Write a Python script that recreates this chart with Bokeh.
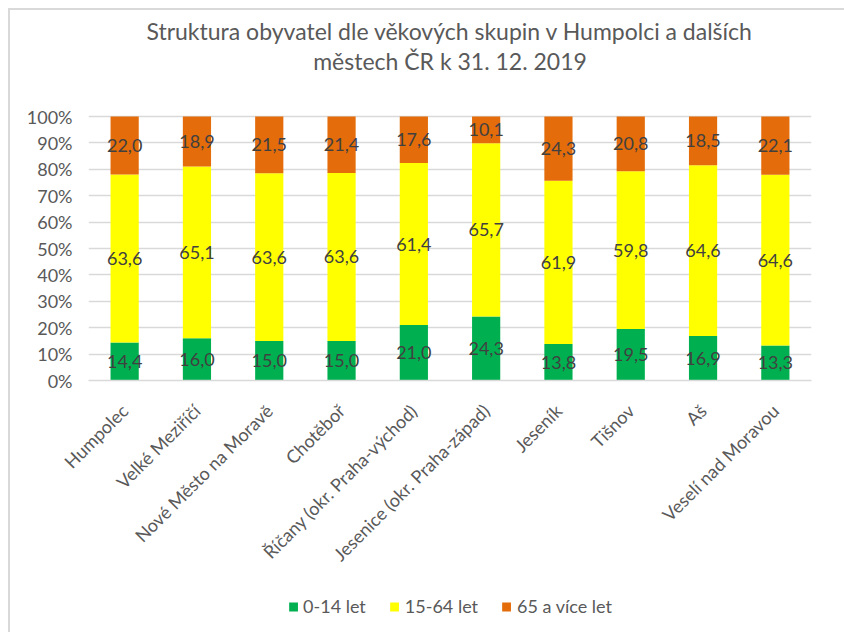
from math import pi
from bokeh.plotting import figure
from bokeh.layouts import column
from bokeh.models import (ColumnDataSource, FactorRange, Range1d, FixedTicker,
                          NumeralTickFormatter, Legend, LegendItem, Title)
from bokeh.core.properties import value
from bokeh.embed import file_html
from bokeh.resources import INLINE

cities = ["Humpolec", "Velké Meziříčí", "Nové Město na Moravě", "Chotěboř",
          "Říčany (okr. Praha-východ)", "Jesenice (okr. Praha-západ)",
          "Jeseník", "Tišnov", "Aš", "Veselí nad Moravou"]
age_0_14 = [14.4, 16.0, 15.0, 15.0, 21.0, 24.3, 13.8, 19.5, 16.9, 13.3]
age_15_64 = [63.6, 65.1, 63.6, 63.6, 61.4, 65.7, 61.9, 59.8, 64.6, 64.6]
age_65 = [22.0, 18.9, 21.5, 21.4, 17.6, 10.1, 24.3, 20.8, 18.5, 22.1]
series_names = ["0-14 let", "15-64 let", "65 a více let"]
colors = ["#00B050", "#FFFF00", "#E46C0A"]
title_lines = ["Struktura obyvatel dle věkových skupin v Humpolci a dalších",
               "městech ČR k 31. 12. 2019"]

FONT = "Lato"
TXT = "#595959"

# layout (pixels): frame top sits just under the title; 100 % line lower down
FRAME_TOP, HUNDRED_PX, ZERO_PX = 64, 106, 370
Y_END = (ZERO_PX - FRAME_TOP) / (ZERO_PX - HUNDRED_PX)

tot = [a + b + c for a, b, c in zip(age_0_14, age_15_64, age_65)]
s1 = [a / t for a, t in zip(age_0_14, tot)]
s2 = [b / t for b, t in zip(age_15_64, tot)]
s3 = [c / t for c, t in zip(age_65, tot)]
src = ColumnDataSource(dict(city=cities, s1=s1, s2=s2, s3=s3))

p = figure(x_range=FactorRange(factors=cities, range_padding=0),
           y_range=Range1d(0, Y_END), width=834, height=570,
           output_backend="svg", toolbar_location=None, title=None,
           min_border_left=78, min_border_right=16, min_border_top=FRAME_TOP,
           min_border_bottom=570 - ZERO_PX)
p.outline_line_color = None

rs = p.vbar_stack(["s1", "s2", "s3"], x="city", width=0.39, color=colors,
                  line_color=None, source=src)

# data labels at segment centres
lx, ly, lt = [], [], []
for i, c in enumerate(cities):
    base = 0.0
    for frac, raw in ((s1[i], age_0_14[i]), (s2[i], age_15_64[i]), (s3[i], age_65[i])):
        lx.append(c)
        ly.append(base + frac / 2)
        lt.append(f"{raw:.1f}".replace(".", ","))
        base += frac
lsrc = ColumnDataSource(dict(x=lx, y=ly, t=lt))
p.text(x="x", y="y", text="t", source=lsrc, text_align="center",
       text_baseline="middle", text_font=value(FONT), text_font_size="18px",
       text_color="#404040")

# axes
p.yaxis.ticker = FixedTicker(ticks=[i / 10 for i in range(11)])
p.yaxis.formatter = NumeralTickFormatter(format="0%")
p.yaxis.axis_line_color = None
p.yaxis.major_tick_line_color = None
p.yaxis.minor_tick_line_color = None
p.yaxis.major_label_standoff = 10
p.yaxis.major_label_text_font = FONT
p.yaxis.major_label_text_font_size = "18px"
p.yaxis.major_label_text_color = TXT

p.xaxis.axis_line_color = "#d9d9d9"
p.xaxis.axis_line_width = 1.5
p.xaxis.major_tick_line_color = None
p.xaxis.minor_tick_line_color = None
p.xaxis.major_label_orientation = pi / 4
p.xaxis.major_label_standoff = 21
p.xaxis.major_label_text_font = FONT
p.xaxis.major_label_text_font_size = "18px"
p.xaxis.major_label_text_color = TXT

p.xgrid.visible = False
p.ygrid.grid_line_color = "#d9d9d9"
p.ygrid.grid_line_width = 1.5

# two title lines, each centred (first added sits nearest the plot)
p.add_layout(Title(text=title_lines[1], align="center", text_font=FONT,
                   text_font_size="23px", text_font_style="normal",
                   text_color=TXT, standoff=0, text_line_height=1.0), "above")
p.add_layout(Title(text=title_lines[0], align="center", text_font=FONT,
                   text_font_size="23px", text_font_style="normal",
                   text_color=TXT, standoff=0, text_line_height=1.0), "above")

# legend strip below the chart (legend-only figure, proxy renderers draw nothing)
leg = figure(width=834, height=52, output_backend="svg", toolbar_location=None,
             title=None, min_border=0, min_border_right=33,
             x_range=(0, 1), y_range=(0, 1))
leg.axis.visible = False
leg.grid.visible = False
leg.outline_line_color = None
proxy = ColumnDataSource(dict(x=[float("nan")], y=[float("nan")]))
lr = [leg.vbar(x="x", top="y", width=0.1, color=c, line_color=None, source=proxy)
      for c in colors]
legend = Legend(items=[LegendItem(label=n, renderers=[r]) for n, r in zip(series_names, lr)],
                orientation="horizontal", location="center",
                label_text_font=FONT, label_text_font_size="18px",
                label_text_color=TXT, glyph_width=11, glyph_height=11,
                label_standoff=5, spacing=23, padding=0, margin=0,
                border_line_color=None, background_fill_alpha=0)
leg.add_layout(legend, "center")

layout = column(p, leg, spacing=0,
                styles={"border-top": "2px solid #d9d9d9",
                        "border-left": "2px solid #d9d9d9",
                        "margin-left": "8px", "margin-top": "8px"})

open("out.html", "w").write(file_html(layout, INLINE))
